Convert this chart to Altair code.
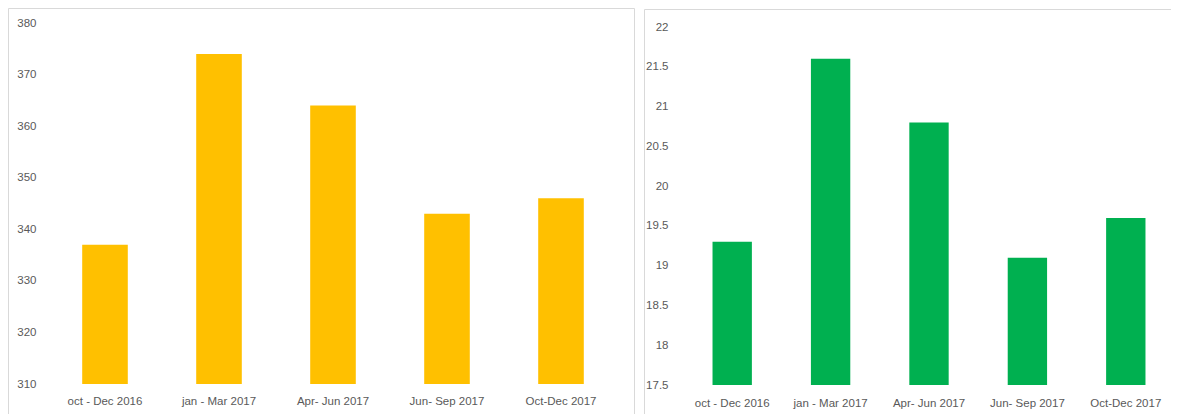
import altair as alt
import pandas as pd

# ---- data ----
periods = ["oct - Dec 2016", "jan - Mar 2017", "Apr- Jun 2017", "Jun- Sep 2017", "Oct-Dec 2017"]
left_values = [337, 374, 364, 343, 346]
right_values = [19.3, 21.6, 20.8, 19.1, 19.6]
left_ticks = [310, 320, 330, 340, 350, 360, 370, 380]
right_ticks = [17.5, 18, 18.5, 19, 19.5, 20, 20.5, 21, 21.5, 22]

df_left = pd.DataFrame({"period": periods, "value": left_values})
df_right = pd.DataFrame({"period": periods, "value": right_values})

W, H = 1163, 406
FONT = "Liberation Sans"
GREY = "#595959"
BORDER = "#d9d9d9"
FS = 11.5

one_row = pd.DataFrame({"k": [0]})

left_border = alt.Chart(one_row).mark_rect(fill="white", fillOpacity=0, stroke=BORDER, strokeWidth=1).encode(
    x=alt.value(0.5), x2=alt.value(626.5), y=alt.value(0.5), y2=alt.value(H + 30)
)
right_border = alt.Chart(one_row).mark_rect(fill="white", fillOpacity=0, stroke=BORDER, strokeWidth=1).encode(
    x=alt.value(636.5), x2=alt.value(W + 30), y=alt.value(1.5), y2=alt.value(H + 30)
)


def x_axis(axis_y, pad):
    return alt.Axis(title=None, orient="bottom", offset=axis_y - H, ticks=False, domain=False,
                    grid=False, labelAngle=0, labelPadding=pad, labelFont=FONT,
                    labelFontSize=FS, labelColor=GREY, zindex=2)


def y_axis(offset, ticks, fmt, pad):
    return alt.Axis(title=None, orient="left", offset=offset, values=ticks, ticks=False,
                    domain=False, grid=False, labelPadding=pad, format=fmt, labelFont=FONT,
                    labelFontSize=FS, labelColor=GREY, zindex=2)


left_bars = alt.Chart(df_left).mark_bar(color="#FFC000").encode(
    x=alt.X("period:N", sort=periods,
            scale=alt.Scale(range=[40, 610], paddingInner=0.6, paddingOuter=0.3),
            axis=x_axis(376, 11)),
    y=alt.Y("value:Q",
            scale=alt.Scale(domain=[310, 380], range=[376, 15], zero=False, nice=False),
            axis=y_axis(-40, left_ticks, "d", 12)),
    y2=alt.datum(310),
)

right_bars = alt.Chart(df_right).mark_bar(color="#00B050").encode(
    x=alt.X("period:N", sort=periods,
            scale=alt.Scale(range=[675, 1167], paddingInner=0.6, paddingOuter=0.3),
            axis=x_axis(377, 12)),
    y=alt.Y("value:Q",
            scale=alt.Scale(domain=[17.5, 22], range=[377, 19], zero=False, nice=False),
            axis=y_axis(-675, right_ticks, ".1~f", 15)),
    y2=alt.datum(17.5),
)

chart = (
    alt.layer(left_border, right_border, left_bars, right_bars)
    .resolve_scale(x="independent", y="independent")
    .resolve_axis(x="independent", y="independent")
    .properties(width=W, height=H, autosize=alt.AutoSizeParams(type="none"), padding=0)
    .configure_view(strokeWidth=0)
)

chart.save("out.html", embed_options={"renderer": "svg", "actions": False})
